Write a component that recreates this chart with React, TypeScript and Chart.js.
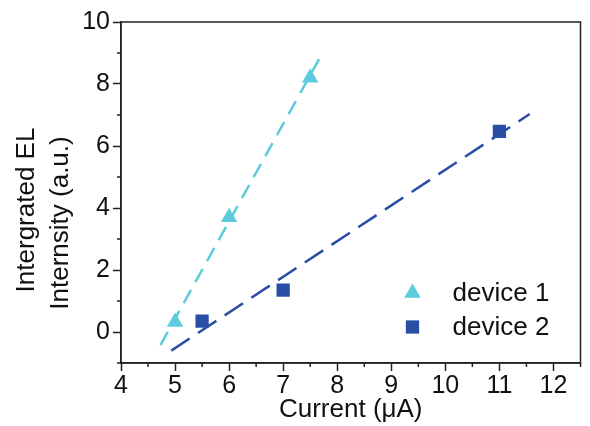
import React, { useEffect, useRef } from 'react';
import { Chart, registerables } from 'chart.js';

Chart.register(...registerables);

const device1X = [5, 6, 7.5];
const device1Y = [0.32, 3.7, 8.2];
const device2X = [5.5, 7, 11];
const device2Y = [0.35, 1.35, 6.47];
const fit1X = [4.73, 7.74];
const fit1Y = [-0.42, 9.04];
const fit2X = [4.93, 11.56];
const fit2Y = [-0.6, 7.03];
const xTicks = [4, 5, 6, 7, 8, 9, 10, 11, 12];
const xMinorTicks = [4.5, 5.5, 6.5, 7.5, 8.5, 9.5, 10.5, 11.5, 12.5];
const yTicks = [0, 2, 4, 6, 8, 10];
const yMinorTicks = [-1, 1, 3, 5, 7, 9];
const seriesLabels = ['device 1', 'device 2'];
const yTitleLines = ['Intergrated EL', 'Internsity (a.u.)'];
const xTitle = 'Current (\u03bcA)';

const CYAN = '#5ccbdb';
const BLUE = '#2a4ea6';
const AXIS = '#222222';
const FONT = 'Arial, "Liberation Sans", Helvetica, sans-serif';

function drawMarker(ctx: CanvasRenderingContext2D, style: string, x: number, y: number, r: number, color: string) {
  ctx.fillStyle = color;
  ctx.beginPath();
  if (style === 'triangle') {
    const c = Math.cos(Math.PI / 6) * r;
    ctx.moveTo(x, y - r);
    ctx.lineTo(x - c, y + r / 2);
    ctx.lineTo(x + c, y + r / 2);
    ctx.closePath();
  } else {
    const s = Math.SQRT1_2 * r;
    ctx.rect(x - s, y - s, 2 * s, 2 * s);
  }
  ctx.fill();
}

const decorPlugin = {
  id: 'decor',
  afterDraw(chart: any) {
    const { ctx, chartArea: a, scales } = chart;
    ctx.save();
    ctx.strokeStyle = AXIS;
    ctx.lineWidth = 1.5;
    ctx.strokeRect(a.left, a.top, a.right - a.left, a.bottom - a.top);
    ctx.beginPath();
    xMinorTicks.forEach((v) => {
      const px = scales.x.getPixelForValue(v);
      ctx.moveTo(px, a.bottom);
      ctx.lineTo(px, a.bottom + 4);
    });
    yMinorTicks.forEach((v) => {
      const py = scales.y.getPixelForValue(v);
      ctx.moveTo(a.left - 4, py);
      ctx.lineTo(a.left, py);
    });
    ctx.stroke();

    // y axis title (two lines)
    ctx.fillStyle = '#111';
    ctx.font = `26px ${FONT}`;
    ctx.textAlign = 'center';
    ctx.textBaseline = 'middle';
    const titleCenters = [[27, 210], [61, 223]];
    yTitleLines.forEach((t, i) => {
      ctx.save();
      ctx.translate(titleCenters[i][0], titleCenters[i][1]);
      ctx.rotate(-Math.PI / 2);
      ctx.fillText(t, 0, 0);
      ctx.restore();
    });

    // legend
    const legendDs = chart.data.datasets.filter((d: any) => seriesLabels.includes(d.label));
    legendDs.forEach((d: any, i: number) => {
      const my = a.top + 271 + i * 34;
      const mx = a.right - 168;
      drawMarker(ctx, d.pointStyle, mx, my, d.pointRadius, d.backgroundColor);
      ctx.fillStyle = '#111';
      ctx.font = `26px ${FONT}`;
      ctx.textAlign = 'left';
      ctx.textBaseline = 'middle';
      ctx.fillText(d.label, mx + 40, my + 1);
    });
    ctx.restore();
  },
};

export default function App() {
  const ref = useRef<HTMLCanvasElement | null>(null);
  useEffect(() => {
    if (!ref.current) return;
    const chart = new Chart(ref.current, {
      type: 'scatter',
      data: {
        datasets: [
          {
            label: 'fit 1',
            data: fit1X.map((x, i) => ({ x, y: fit1Y[i] })),
            showLine: true,
            borderColor: CYAN,
            borderWidth: 2.5,
            borderDash: [15, 9],
            pointRadius: 0,
            order: 2,
          },
          {
            label: 'fit 2',
            data: fit2X.map((x, i) => ({ x, y: fit2Y[i] })),
            showLine: true,
            borderColor: BLUE,
            borderWidth: 2.5,
            borderDash: [22, 10],
            pointRadius: 0,
            order: 2,
          },
          {
            label: seriesLabels[0],
            data: device1X.map((x, i) => ({ x, y: device1Y[i] })),
            pointStyle: 'triangle',
            pointRadius: 9.5,
            backgroundColor: CYAN,
            borderColor: CYAN,
            borderWidth: 0,
            order: 1,
          },
          {
            label: seriesLabels[1],
            data: device2X.map((x, i) => ({ x, y: device2Y[i] })),
            pointStyle: 'rect',
            pointRadius: 9.4,
            backgroundColor: BLUE,
            borderColor: BLUE,
            borderWidth: 0,
            order: 1,
          },
        ],
      },
      options: {
        animation: false,
        responsive: true,
        maintainAspectRatio: false,
        layout: { padding: { top: 22, right: 7, left: 0, bottom: 0 } },
        plugins: { legend: { display: false }, tooltip: { enabled: false } },
        scales: {
          x: {
            type: 'linear',
            min: 4,
            max: 12.5,
            afterBuildTicks: (s: any) => { s.ticks = xTicks.map((v) => ({ value: v })); },
            afterFit: (s: any) => { s.height = 63; },
            grid: { display: true, drawOnChartArea: false, drawTicks: true, tickLength: 8, tickColor: AXIS, tickWidth: 1.5 },
            border: { display: true, color: AXIS, width: 1.5 },
            ticks: { color: '#111', font: { size: 25, family: FONT }, padding: 0, maxRotation: 0, autoSkip: false },
            title: { display: true, text: xTitle, color: '#111', font: { size: 26, family: FONT }, padding: { top: 0, bottom: 1 } },
          },
          y: {
            type: 'linear',
            min: -1,
            max: 10,
            afterBuildTicks: (s: any) => { s.ticks = yTicks.map((v) => ({ value: v })); },
            afterFit: (s: any) => { s.width = 121; },
            grid: { display: true, drawOnChartArea: false, drawTicks: true, tickLength: 8, tickColor: AXIS, tickWidth: 1.5 },
            border: { display: true, color: AXIS, width: 1.5 },
            ticks: { color: '#111', font: { size: 25, family: FONT }, padding: 3 },
          },
        },
      },
      plugins: [decorPlugin],
    } as any);
    return () => chart.destroy();
  }, []);
  return (
    <div style={{ position: 'fixed', left: 0, top: 0, width: 590, height: 426, background: '#fff' }}>
      <canvas ref={ref} />
    </div>
  );
}
